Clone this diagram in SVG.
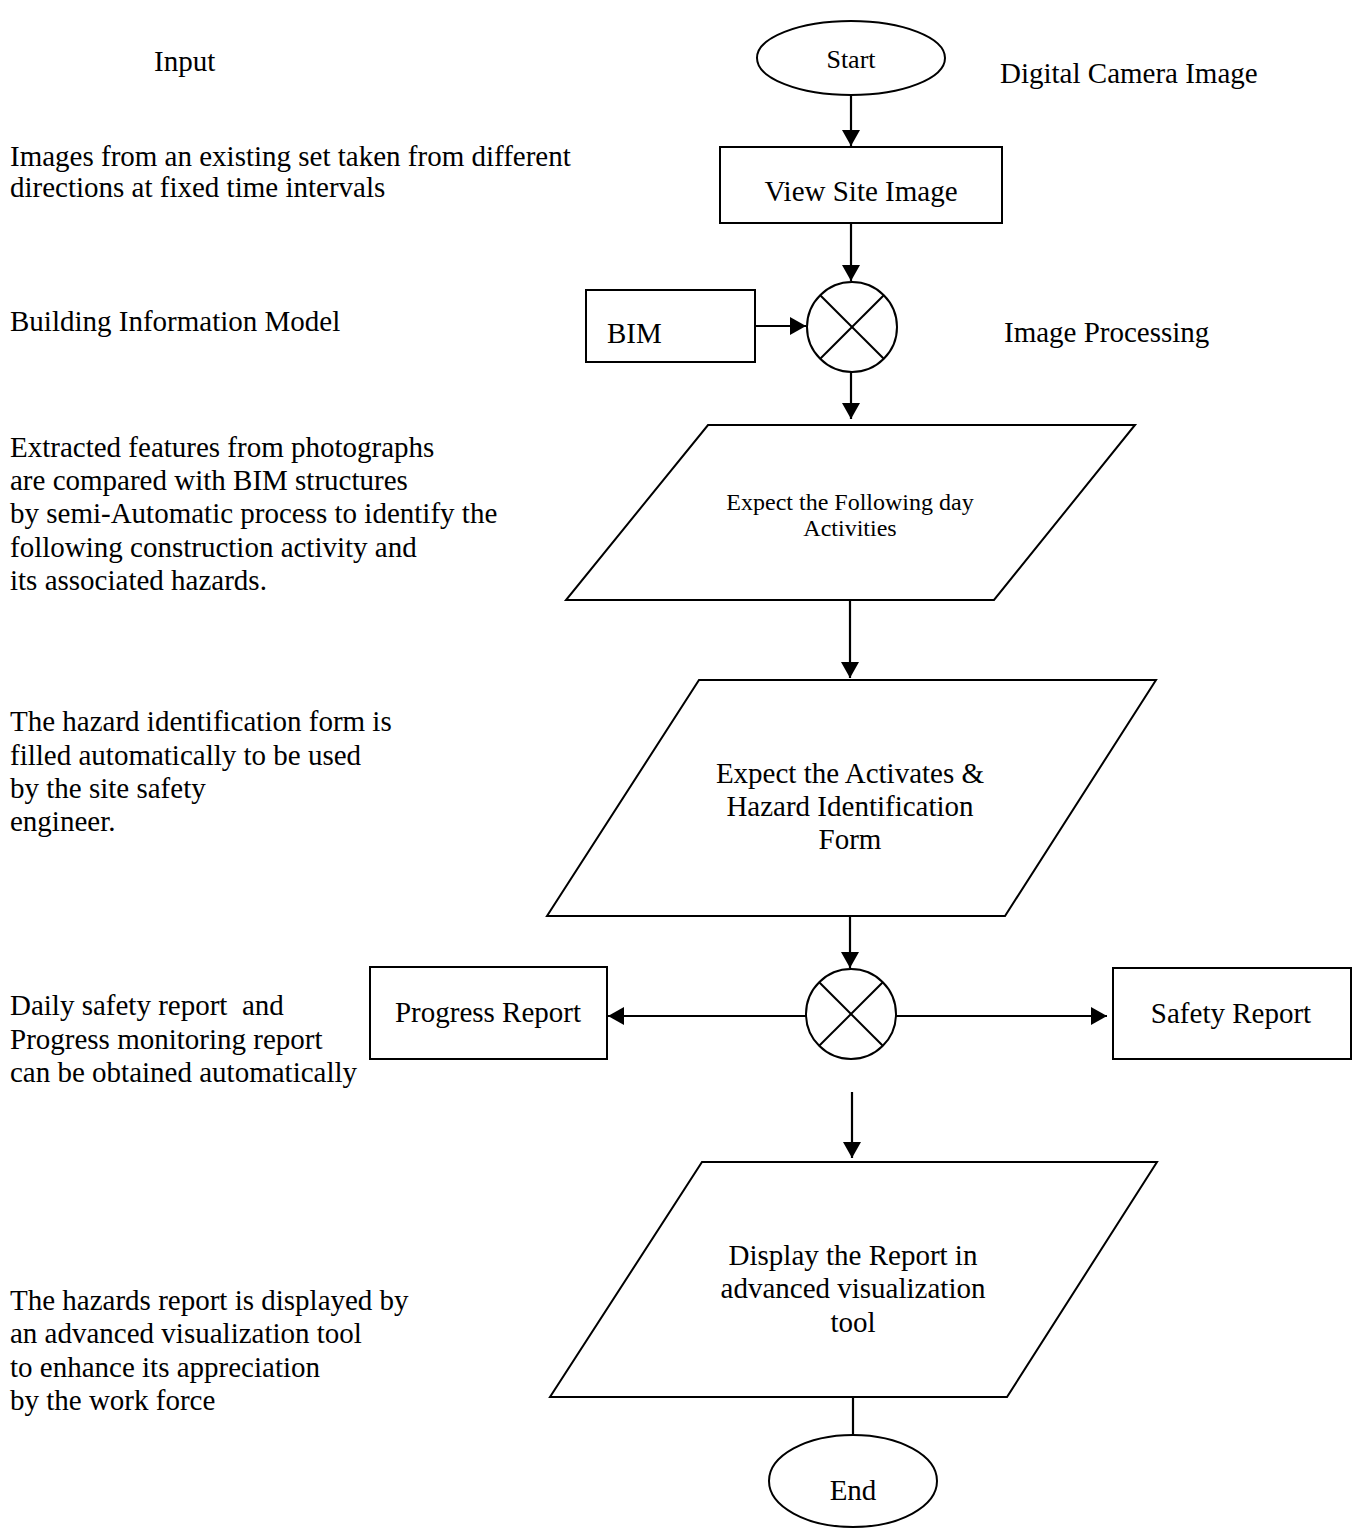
<svg xmlns="http://www.w3.org/2000/svg" width="1353" height="1528" viewBox="0 0 1353 1528">
<style>
.s{fill:#fff;stroke:#000;stroke-width:2}
.x{stroke:#000;stroke-width:2;fill:none}
.c{stroke:#000;stroke-width:2.2;fill:none}
.t{font-family:"Liberation Serif","Times New Roman",serif;font-size:29px;fill:#000}
.m{text-anchor:middle}
</style>
<defs>
<marker id="ah" markerUnits="userSpaceOnUse" markerWidth="17" markerHeight="18" refX="16" refY="9" orient="auto">
<path d="M0,0 L16,9 L0,18 z" fill="#000"/>
</marker>
</defs>
<rect width="1353" height="1528" fill="#fff"/>

<g id="labels">
<text class="t" x="154" y="71">Input</text>
<text class="t" x="1000" y="83">Digital Camera Image</text>
<text class="t" x="10" y="166">Images from an existing set taken from different</text>
<text class="t" x="10" y="197">directions at fixed time intervals</text>
<text class="t" x="10" y="331">Building Information Model</text>
<text class="t" x="1004" y="342">Image Processing</text>
<text class="t" x="10" y="457">Extracted features from photographs</text>
<text class="t" x="10" y="490">are compared with BIM structures</text>
<text class="t" x="10" y="523">by semi-Automatic process to identify the</text>
<text class="t" x="10" y="557">following construction activity and</text>
<text class="t" x="10" y="590">its associated hazards.</text>
<text class="t" x="10" y="731">The hazard identification form is</text>
<text class="t" x="10" y="765">filled automatically to be used</text>
<text class="t" x="10" y="798">by the site safety</text>
<text class="t" x="10" y="831">engineer.</text>
<text class="t" x="10" y="1015" xml:space="preserve" style="white-space:pre">Daily safety report  and</text>
<text class="t" x="10" y="1049">Progress monitoring report</text>
<text class="t" x="10" y="1082">can be obtained automatically</text>
<text class="t" x="10" y="1310">The hazards report is displayed by</text>
<text class="t" x="10" y="1343">an advanced visualization tool</text>
<text class="t" x="10" y="1377">to enhance its appreciation</text>
<text class="t" x="10" y="1410">by the work force</text>
</g>

<g id="connectors">
<line class="c" x1="851" y1="95" x2="851" y2="146" marker-end="url(#ah)"/>
<line class="c" x1="851" y1="223" x2="851" y2="281" marker-end="url(#ah)"/>
<line class="c" x1="755" y1="326" x2="806" y2="326" marker-end="url(#ah)"/>
<line class="c" x1="851" y1="372" x2="851" y2="419" marker-end="url(#ah)"/>
<line class="c" x1="850" y1="600" x2="850" y2="678" marker-end="url(#ah)"/>
<line class="c" x1="850" y1="916" x2="850" y2="968" marker-end="url(#ah)"/>
<line class="c" x1="806" y1="1016" x2="608" y2="1016" marker-end="url(#ah)"/>
<line class="c" x1="896" y1="1016" x2="1107" y2="1016" marker-end="url(#ah)"/>
<line class="c" x1="852" y1="1092" x2="852" y2="1158" marker-end="url(#ah)"/>
<line class="c" x1="853" y1="1397" x2="853" y2="1436"/>
</g>

<g id="start">
<ellipse class="s" cx="851" cy="58" rx="94" ry="37"/>
<text class="t m" x="851" y="68" style="font-size:26px">Start</text>
</g>

<g id="view-site-image">
<rect class="s" x="720" y="147" width="282" height="76"/>
<text class="t m" x="861" y="201">View Site Image</text>
</g>

<g id="bim">
<rect class="s" x="586" y="290" width="169" height="72"/>
<text class="t" x="607" y="343">BIM</text>
</g>

<g id="merge1">
<circle class="s" cx="852" cy="327" r="45"/>
<line class="x" x1="820.2" y1="295.2" x2="883.8" y2="358.8"/>
<line class="x" x1="883.8" y1="295.2" x2="820.2" y2="358.8"/>
</g>

<g id="following-day">
<polygon class="s" points="708,425 1135,425 994,600 566,600"/>
<text class="t m" x="850" y="510" style="font-size:24px">Expect the Following day</text>
<text class="t m" x="850" y="536" style="font-size:24px">Activities</text>
</g>

<g id="hazard-form">
<polygon class="s" points="699,680 1156,680 1005,916 547,916"/>
<text class="t m" x="850" y="783">Expect the Activates &amp;</text>
<text class="t m" x="850" y="816">Hazard Identification</text>
<text class="t m" x="850" y="849">Form</text>
</g>

<g id="merge2">
<ellipse class="s" cx="851" cy="1014" rx="45" ry="45"/>
<line class="x" x1="819.2" y1="982.2" x2="882.8" y2="1045.8"/>
<line class="x" x1="882.8" y1="982.2" x2="819.2" y2="1045.8"/>
</g>

<g id="progress-report">
<rect class="s" x="370" y="967" width="237" height="92"/>
<text class="t m" x="488" y="1022">Progress Report</text>
</g>

<g id="safety-report">
<rect class="s" x="1113" y="968" width="238" height="91"/>
<text class="t m" x="1231" y="1023">Safety Report</text>
</g>

<g id="display-report">
<polygon class="s" points="702,1162 1157,1162 1007,1397 550,1397"/>
<text class="t m" x="853" y="1265">Display the Report in</text>
<text class="t m" x="853" y="1298">advanced visualization</text>
<text class="t m" x="853" y="1332">tool</text>
</g>

<g id="end">
<ellipse class="s" cx="853" cy="1481" rx="84" ry="46"/>
<text class="t m" x="853" y="1500">End</text>
</g>
</svg>
